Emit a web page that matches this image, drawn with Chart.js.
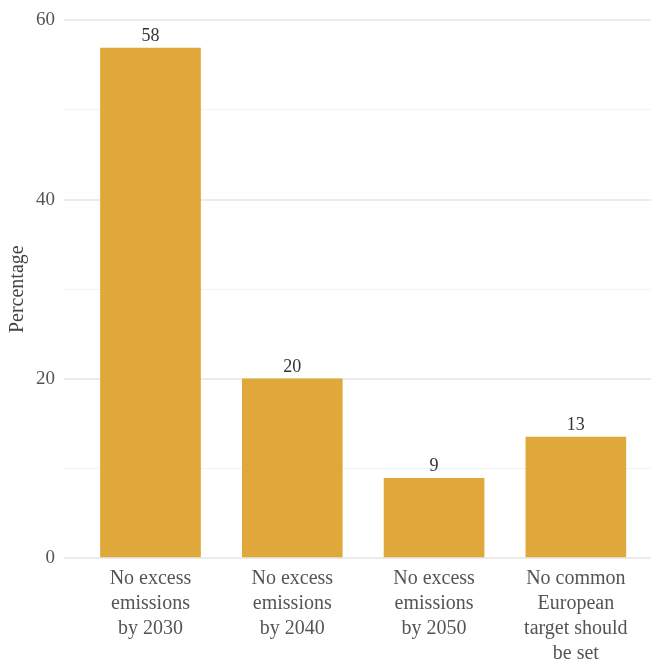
<!DOCTYPE html>
<html>
<head>
<meta charset="utf-8">
<script src="https://cdn.jsdelivr.net/npm/chart.js@4"></script>
<style>
  html, body { margin: 0; padding: 0; background: #fff; }
  #wrap { width: 651px; height: 659px; }
</style>
</head>
<body>
<div id="wrap"><canvas id="chart"></canvas></div>
<script>
// categories and values
const categories = [
  ["No excess", "emissions", "by 2030"],
  ["No excess", "emissions", "by 2040"],
  ["No excess", "emissions", "by 2050"],
  ["No common", "European", "target should", "be set"]
];
const positions = [1, 2, 3, 4];
const values = [56.9, 20, 8.9, 13.5];
const valueLabels = ["58", "20", "9", "13"];
const yTicks = [0, 20, 40, 60];

const FONT = "'Liberation Serif', 'DejaVu Serif', serif";

// draws the number above each bar, using the bar elements placed by Chart.js
const barLabels = {
  id: 'barLabels',
  afterDatasetsDraw(chart) {
    const ctx = chart.ctx;
    const meta = chart.getDatasetMeta(0);
    ctx.save();
    ctx.font = "18px " + FONT;
    ctx.fillStyle = '#333333';
    ctx.textAlign = 'center';
    ctx.textBaseline = 'bottom';
    meta.data.forEach((bar, i) => {
      ctx.fillText(valueLabels[i], bar.x, bar.y - 3);
    });
    ctx.restore();
  }
};

new Chart(document.getElementById('chart'), {
  type: 'bar',
  data: {
    datasets: [{
      data: positions.map((p, i) => ({ x: p, y: values[i] })),
      backgroundColor: '#E0A83A',
      barThickness: 100
    }]
  },
  options: {
    responsive: true,
    maintainAspectRatio: false,
    animation: false,
    layout: { padding: { top: 16, right: 0, left: 0, bottom: 0 } },
    plugins: { legend: { display: false }, tooltip: { enabled: false } },
    scales: {
      x: {
        type: 'linear',
        offset: false,
        min: 0.39,
        max: 4.53,
        afterBuildTicks(scale) {
          scale.ticks = positions.map(v => ({ value: v }));
        },
        afterFit(scale) { scale.height = 101; },
        grid: { display: false, offset: false },
        border: { display: false },
        ticks: {
          autoSkip: false,
          maxRotation: 0,
          padding: 0,
          color: '#555555',
          font: { family: FONT, size: 20, lineHeight: 1.25 },
          callback: (v) => categories[positions.indexOf(v)] || ''
        }
      },
      y: {
        min: 0,
        max: 60,
        afterBuildTicks(scale) {
          scale.ticks = [0, 10, 20, 30, 40, 50, 60].map(v => ({ value: v }));
        },
        afterFit(scale) { scale.width = 64; },
        border: { display: false },
        grid: {
          drawTicks: false,
          color: (c) => yTicks.includes(c.tick.value) ? '#ebebeb' : '#f3f3f3',
          lineWidth: (c) => yTicks.includes(c.tick.value) ? 2 : 1
        },
        ticks: {
          padding: 9,
          color: '#555555',
          font: { family: FONT, size: 19 },
          callback: (v) => yTicks.includes(v) ? String(v) : ''
        },
        title: {
          display: true,
          text: 'Percentage',
          color: '#444444',
          font: { family: FONT, size: 20 },
          padding: { top: 6, bottom: 0 }
        }
      }
    }
  },
  plugins: [barLabels]
});
</script>
</body>
</html>
